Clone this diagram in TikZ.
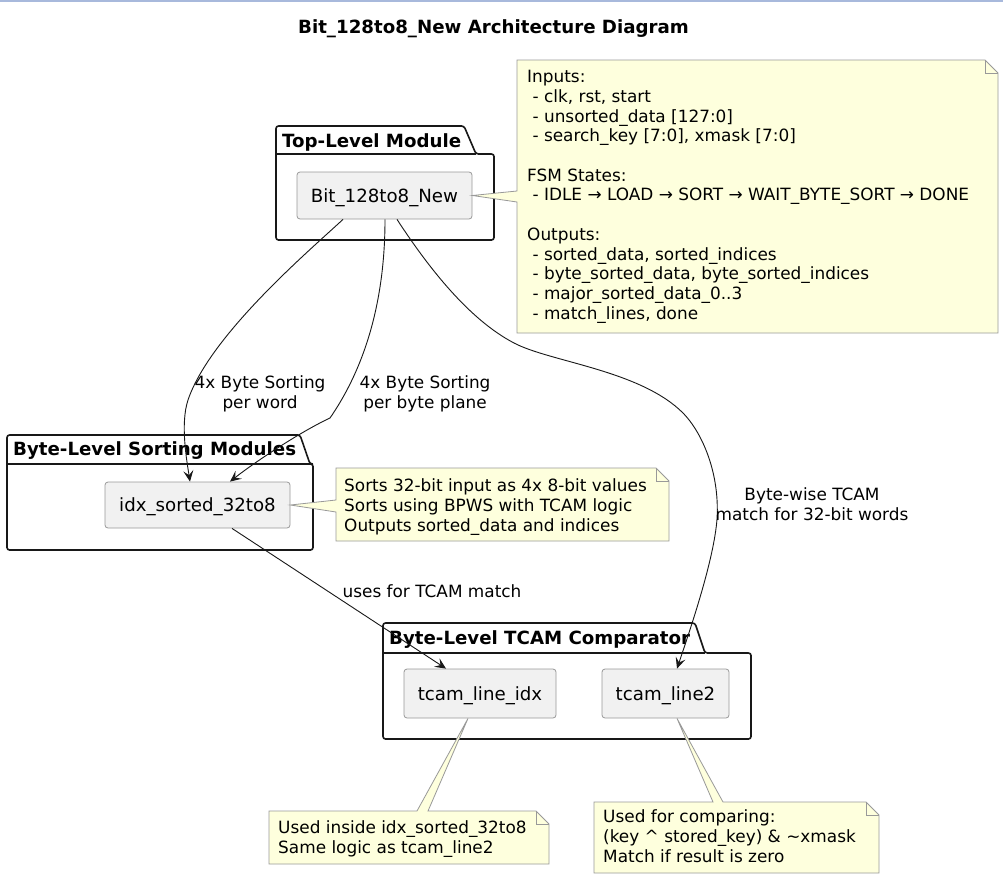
\documentclass[tikz,border=0pt]{standalone}
\usepackage{fontspec}
\setmainfont{DejaVu Sans}
\usetikzlibrary{arrows.meta,calc}
\definecolor{notefill}{HTML}{FEFFDD}
\definecolor{noteline}{HTML}{999999}
\definecolor{modfill}{HTML}{F1F1F1}
\definecolor{modline}{HTML}{999999}
\definecolor{pkgline}{HTML}{181818}
\definecolor{arrline}{HTML}{181818}
\definecolor{topline}{HTML}{A8B9DC}
\newcommand{\bigfont}{\fontsize{18.2}{22}\selectfont}
\newcommand{\smallfont}{\fontsize{16.9}{19.7}\selectfont}
\newcommand{\fl}{\rule{0pt}{13pt}}
\begin{document}
\begin{tikzpicture}[x=1pt,y=-1pt,
  pkg/.style={draw=pkgline, line width=1.6pt, rounded corners=2.5pt, line join=round},
  mod/.style={draw=modline, fill=modfill, line width=0.8pt, rounded corners=3pt, inner sep=0pt, font=\bigfont, text height=13.3pt, text depth=0pt},
  notebox/.style={draw=noteline, fill=notefill, line width=0.8pt, line join=miter},
  notefold/.style={draw=noteline, line width=0.8pt},
  notetext/.style={anchor=north west, inner sep=0pt, align=left, font=\smallfont},
  lbl/.style={anchor=north, inner sep=0pt, align=center, font=\smallfont},
  pkglabel/.style={anchor=base west, inner sep=0pt, font=\bigfont\bfseries},
  arr/.style={draw=arrline, line width=0.9pt, -{Stealth[length=11pt,width=10pt,inset=4.5pt]}},
]
\fill[white] (0,0) rectangle (1003,878);
\useasboundingbox (0,0) rectangle (1003,878);
\draw[topline, line width=2pt] (0,1.2) -- (1003,1.2);

\node[anchor=base, inner sep=0pt, font=\bigfont\bfseries] (title) at (493.5,33) {Bit\_128to8\_New Architecture Diagram};

% packages
\draw[pkg] (276,126) -- (464,126) -- (476,154) -- (494,154) -- (494,240) -- (276,240) -- cycle;
\draw[pkg] (276,154) -- (476,154);
\node[pkglabel] (p1) at (282,147) {Top-Level Module};

\draw[pkg] (7,435) -- (300,435) -- (310,464) -- (313,464) -- (313,550) -- (7,550) -- cycle;
\draw[pkg] (7,464) -- (310,464);
\node[pkglabel] (p2) at (13,455) {Byte-Level Sorting Modules};

\draw[pkg] (383,623) -- (695,623) -- (705,653) -- (751,653) -- (751,739) -- (383,739) -- cycle;
\draw[pkg] (383,653) -- (705,653);
\node[pkglabel] (p3) at (389,644) {Byte-Level TCAM Comparator};

% modules
\node[mod, minimum width=175pt, minimum height=47pt] (bit) at (384.5,195.5) {Bit\_128to8\_New};
\node[mod, minimum width=185pt, minimum height=46pt] (idx) at (197.5,505) {idx\_sorted\_32to8};
\node[mod, minimum width=152pt, minimum height=49pt] (tli) at (480,693.5) {tcam\_line\_idx};
\node[mod, minimum width=127pt, minimum height=49pt] (tl2) at (665.5,693.5) {tcam\_line2};

% notes
\draw[notebox] (517,60) -- (985,60) -- (998,73) -- (998,333) -- (517,333) -- (517,202) -- (bit.east) -- (517,191) -- cycle;
\draw[notefold] (985,60) -- (985,73) -- (998,73);
\node[notetext] (n1) at (527,69.5) {\fl Inputs:\\
\ - clk, rst, start\\
\ - unsorted\_data [127:0]\\
\ - search\_key [7:0], xmask [7:0]\\
\mbox{}\\
FSM States:\\
\ - IDLE → LOAD → SORT → WAIT\_BYTE\_SORT → DONE\\
\mbox{}\\
Outputs:\\
\ - sorted\_data, sorted\_indices\\
\ - byte\_sorted\_data, byte\_sorted\_indices\\
\ - major\_sorted\_data\_0..3\\
\ - match\_lines, done};

\draw[notebox] (336,468) -- (656,468) -- (669,481) -- (669,541) -- (336,541) -- (336,512) -- (idx.east) -- (336,500) -- cycle;
\draw[notefold] (656,468) -- (656,481) -- (669,481);
\node[notetext] (n2) at (344,478.5) {\fl Sorts 32-bit input as 4x 8-bit values\\
Sorts using BPWS with TCAM logic\\
Outputs sorted\_data and indices};

\draw[notebox] (269,811) -- (417,811) -- ($(tli.south)+(-12,0)$) -- (428,811) -- (536,811) -- (549,824) -- (549,864) -- (269,864) -- cycle;
\draw[notefold] (536,811) -- (536,824) -- (549,824);
\node[notetext] (n3) at (278,820.5) {\fl Used inside idx\_sorted\_32to8\\
Same logic as tcam\_line2};

\draw[notebox] (594,802) -- (713,802) -- ($(tl2.south)+(11.5,0)$) -- (723,802) -- (866,802) -- (879,815) -- (879,873) -- (594,873) -- cycle;
\draw[notefold] (866,802) -- (866,815) -- (879,815);
\node[notetext] (n4) at (603,809.5) {\fl Used for comparing:\\
(key \^{} stored\_key) \& \textasciitilde xmask\\
Match if result is zero};

% connectors
\draw[arr] ($(bit.south)+(-41.5,0)$) .. controls (310,250) and (210,335) .. (188,400) .. controls (180,424) and (187,462) .. ($(idx.north)+(-7.5,0)$);
\draw[arr] ($(bit.south)+(0.5,0)$) .. controls (385,290) and (370,360) .. (330,418) .. controls (300,432) and (255,462) .. ($(idx.north)+(32.5,0)$);
\draw[arr] ($(bit.south)+(12.5,0)$) .. controls (430,270) and (470,320) .. (514,343) .. controls (550,362) and (640,370) .. (683,413) .. controls (700,430) and (720,470) .. (717,519) .. controls (714,560) and (690,630) .. ($(tl2.north)+(11.5,0)$);
\draw[arr] ($(idx.south)+(34.5,0)$) -- ($(tli.north)+(-34,0)$);

% labels
\node[lbl] (l1) at (260,375.5) {\fl 4x Byte Sorting\\per word};
\node[lbl] (l2) at (425,375.5) {\fl 4x Byte Sorting\\per byte plane};
\node[lbl] (l3) at (812,487.5) {\fl Byte-wise TCAM\\match for 32-bit words};
\node[lbl] (l4) at (432,584.5) {\fl uses for TCAM match};
\end{tikzpicture}
\end{document}
